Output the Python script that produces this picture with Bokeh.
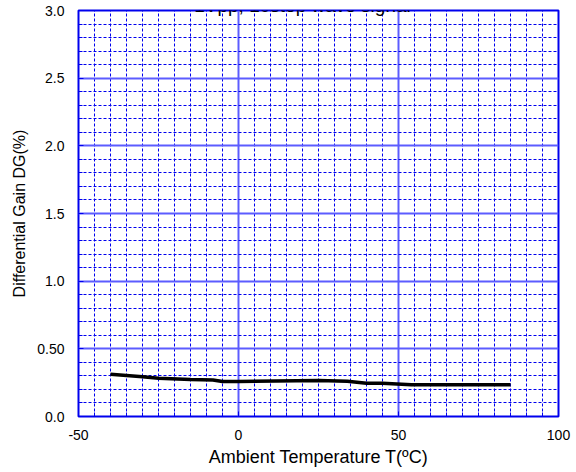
from bokeh.plotting import figure
from bokeh.models import SingleIntervalTicker, Range1d, Label
from bokeh.embed import file_html
from bokeh.resources import INLINE

# data
temp_c = [-40, -30, -25, -15, -8, -5, 0, 25, 34, 40, 45, 54, 85]
dg_pct = [0.313, 0.293, 0.283, 0.273, 0.27, 0.258, 0.258, 0.266, 0.26, 0.246, 0.246, 0.234, 0.234]
title_text = "1Vpp, 10step wave signal"
x_label = "Ambient Temperature T(\u00baC)"
y_label = "Differential Gain DG(%)"
x_tick_labels = {-50: "-50", 0: "0", 50: "50", 100: "100"}
y_tick_labels = {0.0: "0.0", 0.5: "0.50", 1.0: "1.0", 1.5: "1.5", 2.0: "2.0", 2.5: "2.5", 3.0: "3.0"}

FONT = "Liberation Sans"
BLUE = "#0000ee"

p = figure(width=576, height=472, output_backend="svg", toolbar_location=None,
           x_range=Range1d(-50, 100), y_range=Range1d(0, 3.0),
           min_border_left=78, min_border_right=18, min_border_top=10, min_border_bottom=56)
p.margin = (0, 0, 0, 0)
p.background_fill_color = "white"
p.border_fill_color = "white"
p.outline_line_color = BLUE
p.outline_line_width = 2

p.xaxis.ticker = SingleIntervalTicker(interval=50, num_minor_ticks=10)
p.yaxis.ticker = SingleIntervalTicker(interval=0.5, num_minor_ticks=5)
p.xaxis.major_label_overrides = x_tick_labels
p.yaxis.major_label_overrides = y_tick_labels

for ax in (p.xaxis, p.yaxis):
    ax.axis_line_color = None
    ax.major_tick_in = 5
    ax.major_tick_out = 0
    ax.minor_tick_in = 4
    ax.minor_tick_out = 0
    ax.major_tick_line_color = BLUE
    ax.minor_tick_line_color = BLUE
    ax.major_label_text_font = FONT
    ax.major_label_text_font_size = "14px"
    ax.major_label_text_color = "black"
    ax.axis_label_text_font = FONT
    ax.axis_label_text_font_style = "normal"
    ax.axis_label_text_color = "black"

p.xaxis.axis_label = x_label
p.yaxis.axis_label = y_label
p.xaxis.axis_label_text_font_size = "18px"
p.yaxis.axis_label_text_font_size = "16px"
p.xaxis.major_label_standoff = 13
p.yaxis.major_label_standoff = 14
p.xaxis.axis_label_standoff = 4
p.yaxis.axis_label_standoff = 6

for g in (p.xgrid, p.ygrid):
    g.grid_line_color = "#5c5cff"
    g.grid_line_width = 2
    g.minor_grid_line_color = BLUE
    g.minor_grid_line_width = 1
    g.minor_grid_line_dash = "3 2"

p.line(temp_c, dg_pct, line_color="black", line_width=3.5)

title = Label(x=20, y=3.04, text=title_text, text_align="center", text_baseline="alphabetic",
              text_font=FONT, text_font_size="19px", text_color="black")
p.add_layout(title)

open("out.html", "w").write(file_html(p, INLINE))
